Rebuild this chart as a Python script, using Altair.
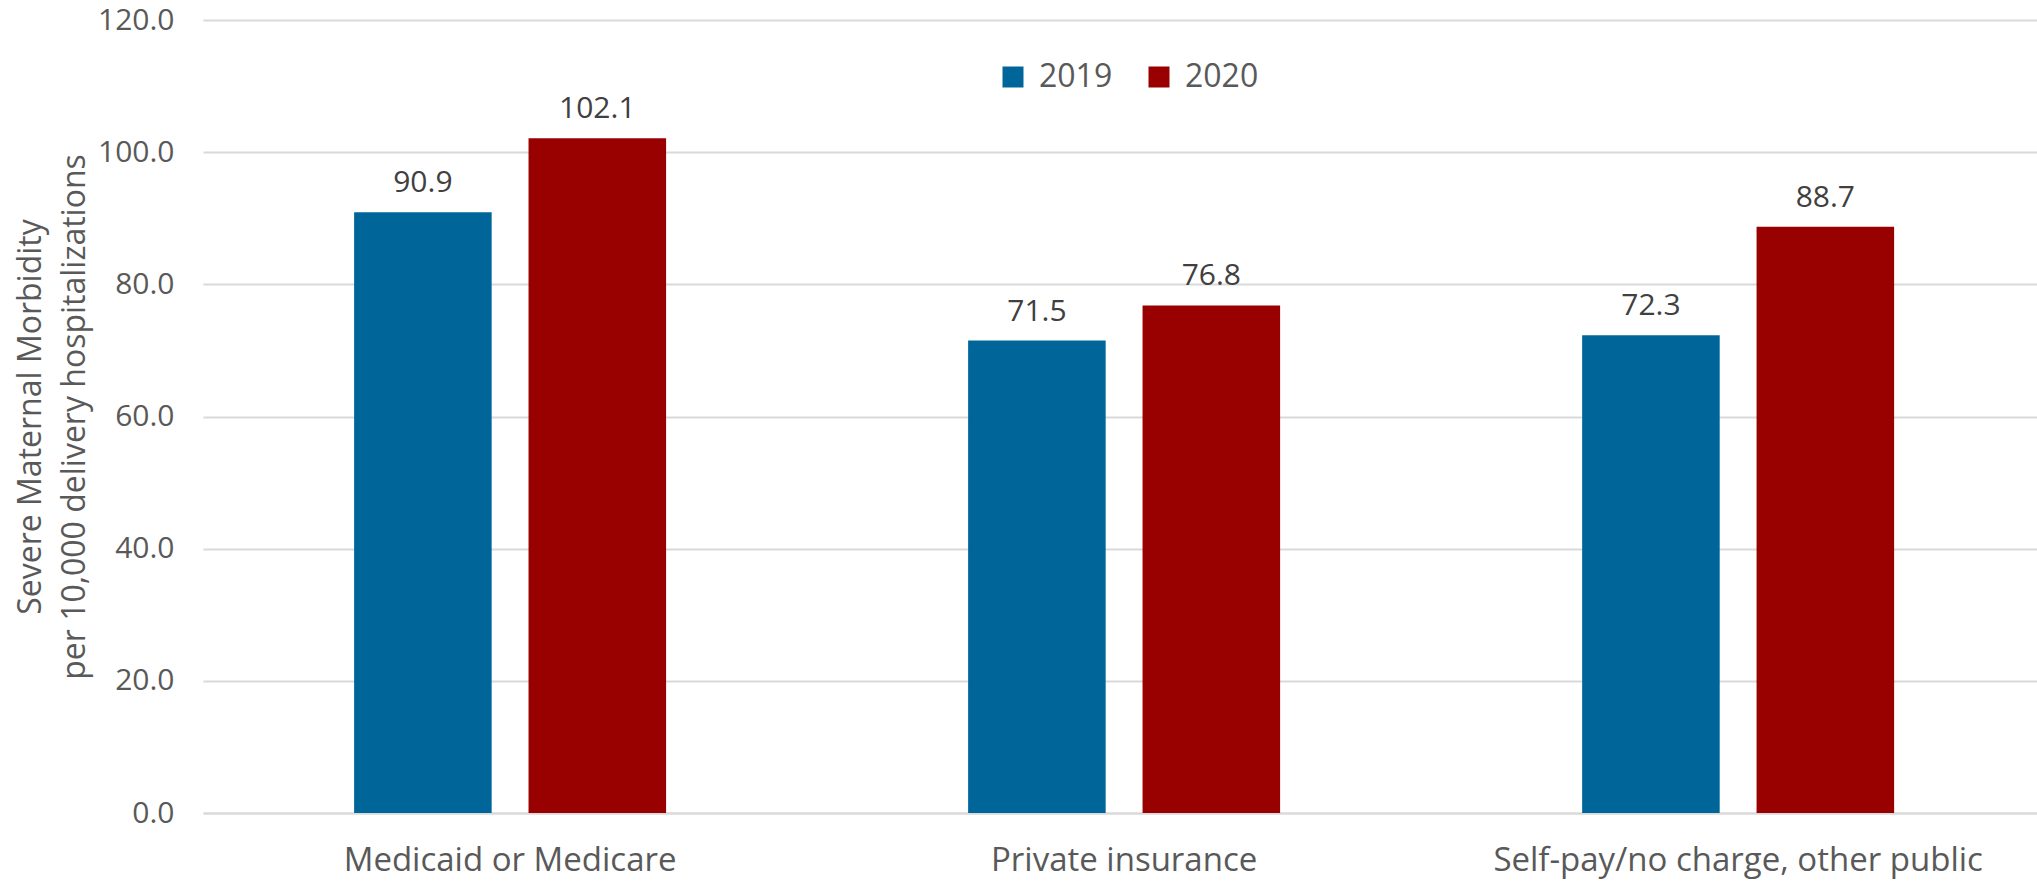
import altair as alt
import pandas as pd

categories = ["Medicaid or Medicare", "Private insurance", "Self-pay/no charge, other public"]
years = ["2019", "2020"]
values_2019 = [90.9, 71.5, 72.3]
values_2020 = [102.1, 76.8, 88.7]

rows = []
for c, a, b in zip(categories, values_2019, values_2020):
    rows.append({"payer": c, "year": "2019", "value": a})
    rows.append({"payer": c, "year": "2020", "value": b})
df = pd.DataFrame(rows)

FONT = "Open Sans"

x = alt.X("payer:N", sort=categories, title=None,
          scale=alt.Scale(paddingInner=0.4919, paddingOuter=0.2394, align=0.514),
          axis=alt.Axis(labelAngle=0, labelFontSize=33, labelColor="#595959", labelFont=FONT,
                        ticks=False, labelPadding=31, domainColor="#d9d9d9", domainWidth=2,
                        labelLimit=700))
xo = alt.XOffset("year:N", sort=years, scale=alt.Scale(paddingInner=0.2114, paddingOuter=0))
y = alt.Y("value:Q", scale=alt.Scale(domain=[0, 120], nice=False),
          title=["Severe Maternal Morbidity", "per 10,000 delivery hospitalizations"],
          axis=alt.Axis(values=[0, 20, 40, 60, 80, 100, 120], format=".1f",
                        labelFontSize=30, labelColor="#595959", labelFont=FONT,
                        labelPadding=29, ticks=False, domain=False,
                        gridColor="#d9d9d9", gridWidth=2,
                        titleFontSize=32, titleFont=FONT, titleColor="#595959",
                        titleFontWeight="normal", titlePadding=6, titleLineHeight=44))

color = alt.Color("year:N", sort=years,
                  scale=alt.Scale(domain=years, range=["#006699", "#990000"]),
                  legend=alt.Legend(title=None, orient="none", legendX=794, legendY=41,
                                    direction="horizontal", symbolType="square",
                                    symbolSize=441, symbolStrokeWidth=0,
                                    labelFontSize=32, labelFont=FONT, labelColor="#595959",
                                    labelOffset=10, columnPadding=30))

bars = alt.Chart(df).mark_bar().encode(x=x, xOffset=xo, y=y, color=color)
labels = alt.Chart(df).mark_text(baseline="alphabetic", dy=-20, fontSize=30,
                                 font=FONT, color="#404040").encode(
    x=x, xOffset=xo, y=y, text=alt.Text("value:Q", format=".1f"))

chart = (bars + labels).properties(
    width=1834, height=793,
    autosize=alt.AutoSizeParams(type="none"),
    padding={"left": 203, "top": 20, "right": 0, "bottom": 68},
    background="white",
).configure_view(stroke=None)

chart.save("out.html", embed_options={"renderer": "svg", "actions": False})
